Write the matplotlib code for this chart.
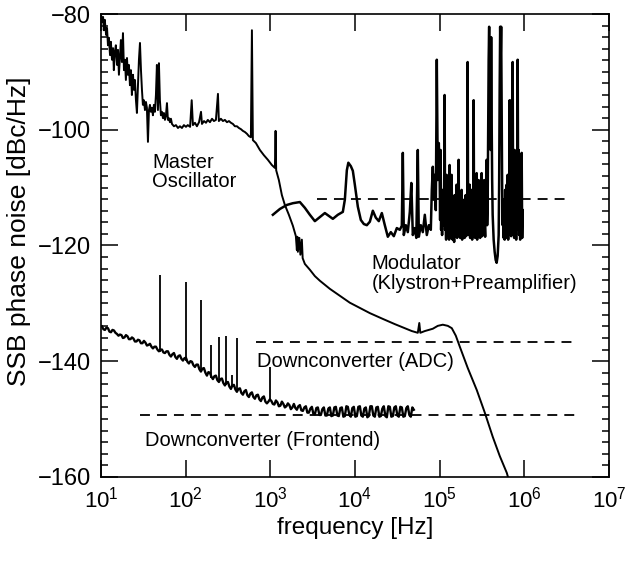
import numpy as np
import matplotlib
matplotlib.use("Agg")
import matplotlib.pyplot as plt
from matplotlib.ticker import FixedLocator, NullLocator, MultipleLocator

# ---------------- data ----------------
xtick_vals = [1e1, 1e2, 1e3, 1e4, 1e5, 1e6, 1e7]
xtick_labels = ["$\\mathregular{10^{%d}}$" % e for e in range(1, 8)]
ytick_vals = [-160, -140, -120, -100, -80]

# Master oscillator
mo_freq = [10.0, 10.3, 10.6, 10.8, 11.1, 11.5, 11.8, 12.1, 12.4, 12.8, 13.1, 13.5, 13.9, 14.2,
           14.6, 15.0, 15.5, 15.9, 16.3, 16.8, 17.2, 17.7, 18.2, 18.7, 19.2, 19.7, 20.3, 20.8,
           21.4, 22.0, 22.6, 23.2, 23.9, 24.5, 25.2, 25.9, 26.6, 27.4, 28.1, 28.9, 29.7, 30.5,
           31.3, 32.2, 33.1, 34.0, 34.9, 35.9, 36.9, 37.9, 38.9, 40.0, 41.1, 42.2, 43.4, 44.6,
           45.8, 47.1, 48.4, 49.7, 51.1, 52.5, 54.0, 55.4, 57.0, 58.5, 60.2, 61.8, 63.5, 65.3,
           67.1, 69.0, 72.8, 76.9, 81.2, 85.7, 90.5, 95.5, 101, 106, 113, 118, 122, 129, 136,
           144, 152, 156, 165, 174, 183, 194, 205, 216, 228, 241, 247, 261, 276, 291, 308, 325,
           343, 362, 382, 404, 426, 450, 475, 502, 530, 559, 590, 607, 623, 676, 754, 840, 937,
           1044, 1134, 1155, 1174, 1263, 1371, 1487, 1658, 1849, 2006, 2061, 2089, 2118, 2206,
           2267, 2361, 2413, 2562, 2935, 3362, 3852, 5054, 6632, 8706, 11430, 15000, 21350,
           29580, 38820, 46970, 55280, 57570, 59170, 66890, 83140, 95220, 109100, 125000,
           139300, 155400, 173200, 215200, 274900, 341800, 424800, 513600, 621500, 656200]
mo_db = [-80.0, -81.4, -80.5, -82.8, -81.0, -83.6, -82.4, -85.4, -84.1, -87.1, -84.8, -87.9, -85.9, -89.7,
         -86.6, -85.4, -88.8, -86.2, -90.5, -87.1, -84.5, -88.3, -83.3, -89.7, -87.9, -91.4, -87.6, -90.5,
         -88.8, -92.3, -89.7, -94.0, -90.5, -93.1, -91.4, -94.9, -97.1, -92.3, -87.9, -85.0, -89.7, -93.1,
         -95.7, -94.9, -96.6, -95.2, -96.2, -102.1, -96.6, -95.7, -96.9, -96.2, -97.5, -95.7, -96.9, -94.0,
         -88.8, -96.6, -88.5, -94.9, -97.5, -96.9, -98.0, -97.1, -98.3, -97.6, -95.4, -98.3, -98.0, -98.7,
         -98.1, -99.0, -99.4, -99.2, -99.7, -99.4, -99.7, -99.2, -99.5, -99.2, -99.5, -94.9, -99.2, -98.8, -99.4,
         -98.7, -96.9, -99.0, -98.5, -98.8, -98.3, -98.7, -98.1, -98.5, -98.3, -93.8, -98.5, -98.1, -98.5, -98.3, -98.7, -98.5,
         -98.8, -99.0, -99.4, -99.4, -99.7, -99.9, -100.2, -100.4, -100.7, -101.1, -101.3, -82.8, -101.8, -102.3, -103.5, -104.4, -105.2,
         -106.1, -106.6, -100.2, -107.0, -108.7, -111.3, -113.0, -114.7, -116.6, -118.4, -120.8, -118.5, -121.1, -118.7,
         -121.6, -119.0, -122.2, -123.2, -124.2, -125.3, -126.1, -127.5, -128.7, -129.9, -130.8, -131.7, -132.7,
         -133.6, -134.3, -134.8, -135.1, -133.4, -135.1, -134.8, -134.4, -133.9, -133.7, -133.9,
         -134.3, -135.6, -137.5, -141.2, -145.0, -148.9, -153.1, -156.4, -159.3, -160.5]

# Modulator (Klystron + Preamplifier)
mod_freq = [1073, 1298, 1570, 1849, 2236, 2562, 2935, 3362, 3852, 4412, 4918, 5484, 6283, 7196,
            7599, 8024, 8358, 8946, 9446, 9973, 10820, 11740, 12740, 13820, 15000, 16270, 17650,
            19150, 20780, 22540, 24460, 26540, 28790, 31240, 33890, 35790, 36780, 37780, 39890,
            42130, 44490, 46350, 48270, 50980, 53090, 55280, 56810, 59980, 63340, 66890, 70630,
            74580, 78760, 80930, 83140, 85420, 87780, 90200, 92680, 95220, 97850,
            100000, 101400, 102800, 104200, 105600, 107000, 108500, 110000, 111500, 113000,
            114600, 116200, 117800, 119400, 121000, 122700, 124400, 126100, 127800, 129600,
            131300, 133100, 135000, 136800, 138700, 140600, 142500, 144500, 146500, 148500,
            150500, 152600, 154700, 156800, 158900, 161100, 163300, 165500, 167800, 170100,
            172500, 174900, 177200, 179600, 182100, 184600, 187100, 189700, 192300, 194900,
            197600, 200300, 203100, 205900, 208700, 211600, 214400, 217300, 220300, 223300,
            226400, 229500, 232700, 235900, 239100, 242400, 245700, 249100, 252400, 255900,
            259400, 263000, 266600, 270300, 273900, 277700, 281500, 285400, 289200, 293200,
            297200, 301300, 305400, 309600, 313800, 318100, 322500, 326900, 331400, 335900,
            340500, 345200, 349900, 354700, 359600, 364500, 369500, 374600, 379700, 384900,
            390200, 395500, 400900, 406400, 412000, 417600, 423400, 435000, 447000, 459400,
            472000, 485100, 498500, 505300, 512200, 519200, 526300, 533500, 540900, 548300,
            555800, 563400, 571100, 578900, 586900, 594900, 603100, 611400, 619700, 628200,
            636800, 645500, 654400, 663400, 672500, 681700, 691000, 700500, 710100, 719800,
            729700, 739700, 749800, 760100, 770500, 781100, 791700, 802500, 813600, 824700,
            836000, 847500, 859100, 870900, 882800, 894900, 907100, 919500, 932200, 945000, 957900]
mod_db = [-114.7, -113.7, -113.0, -112.7, -112.5, -113.5, -114.7, -115.8, -115.1, -114.4, -114.9, -115.4, -114.7, -114.2,
          -112.1, -107.0, -105.7, -106.3, -107.1, -109.5, -113.3, -115.6, -116.3, -116.5, -115.9, -114.0, -115.2,
          -115.8, -114.4, -116.5, -118.5, -117.7, -118.4, -117.0, -117.3, -116.6, -104.0, -118.2, -116.5,
          -117.7, -114.2, -109.2, -118.2, -117.0, -118.7, -103.5, -118.5, -116.5, -117.7, -114.7, -118.2,
          -116.5, -117.3, -110.4, -106.4, -112.1, -107.8, -113.9, -87.9, -108.7, -102.3,
          -107.0, -115.6, -103.5, -117.3, -112.1, -118.2, -110.4, -116.5, -114.7, -113.0,
          -94.0, -117.3, -113.9, -119.0, -107.8, -116.5, -118.2, -112.1, -113.9, -119.0,
          -106.1, -117.3, -114.7, -118.7, -107.8, -116.5, -119.0, -113.0, -117.0, -119.4,
          -111.3, -117.3, -118.4, -113.9, -109.5, -118.7, -115.6, -117.7, -105.2, -118.2,
          -113.0, -118.7, -114.7, -117.0, -110.4, -119.0, -113.9, -118.2, -116.5, -112.1,
          -118.7, -114.7, -111.3, -118.4, -113.9, -117.3, -88.3, -116.5, -118.2, -113.0,
          -109.5, -118.7, -115.6, -117.7, -110.4, -119.0, -116.5, -113.5, -94.9, -118.2,
          -112.1, -118.7, -114.7, -117.0, -107.5, -119.0, -116.5, -113.9, -108.7, -118.2,
          -115.9, -118.7, -111.3, -117.3, -107.5, -118.4, -115.6, -113.9, -117.7, -108.7,
          -116.5, -118.5, -112.1, -114.7, -105.2, -116.5, -113.0, -100.0, -87.9, -82.2,
          -98.3, -85.4, -103.5, -84.0, -98.3, -108.7, -114.7, -119.0, -121.1, -122.5,
          -123.0, -121.8, -118.2, -108.7, -93.1, -82.2, -87.9, -82.2, -96.6, -110.4,
          -116.5, -112.1, -118.7, -113.9, -119.0, -110.4, -117.3, -114.7, -109.5, -118.7,
          -107.8, -119.0, -112.1, -117.3, -94.9, -116.5, -105.2, -118.4, -94.9, -114.7,
          -88.3, -117.3, -108.7, -118.7, -103.5, -117.7, -112.1, -119.0, -107.0, -117.3,
          -87.9, -112.1, -103.5, -118.2, -107.8, -119.0, -105.2, -116.5, -104.0, -118.7, -113.9]

# Downconverter (Frontend) measured trace: two interleaved sets of samples
fe_freq_a = [10.28, 11.15, 12.10, 13.13, 14.24, 15.45, 16.77, 18.19, 19.74, 21.41, 23.23, 25.21,
             27.35, 29.68, 32.20, 34.93, 37.90, 41.12, 44.62, 48.41, 52.52, 56.98, 61.82, 67.07,
             72.77, 78.96, 85.67, 92.95, 100.8, 109.4, 118.7, 128.8, 139.7, 151.6, 164.4, 178.5,
             193.6, 210.1, 227.9, 247.3, 268.3, 291.1, 315.8, 342.7, 371.8, 403.4, 437.7, 474.9,
             515.2, 559.0, 606.6, 658.1, 714.0, 774.6, 840.5, 912.0, 989.2, 1073, 1165, 1263,
             1371, 1487, 1614, 1751, 1900, 2061, 2236, 2426, 2633, 2856, 3099, 3362, 3648, 3958,
             4294, 4659, 5054, 5484, 5950, 6455, 7004, 7599, 8245, 8946, 9705, 10530, 11430,
             12400, 13450, 14590, 15830, 17180, 18640, 20220, 21940, 23810, 25830, 28030, 30410,
             32990, 35790, 38830, 42130, 45710, 49600]
fe_db_a = [-134.0, -134.6, -134.3, -135.0, -134.7, -135.3, -135.4, -136.0, -135.5, -136.2, -135.9, -136.6,
           -136.3, -136.9, -136.5, -137.3, -137.0, -137.8, -137.5, -138.3, -138.0, -138.6, -138.3, -139.2,
           -138.6, -139.6, -139.0, -139.9, -139.4, -140.4, -140.1, -141.0, -140.6, -141.8, -141.2, -142.5,
           -142.0, -143.1, -142.5, -143.6, -143.0, -144.2, -143.6, -144.8, -144.1, -145.3, -144.7, -145.8,
           -145.0, -146.2, -145.4, -146.5, -145.8, -146.9, -146.1, -147.3, -146.6, -147.4, -146.8, -147.8,
           -147.0, -148.0, -147.3, -148.3, -147.4, -148.4, -147.6, -148.6, -147.8, -148.9, -147.9, -149.2,
           -148.0, -149.3, -148.0, -149.4, -148.0, -149.4, -147.9, -149.5, -148.0, -149.5, -147.9, -149.6,
           -147.9, -149.5, -147.8, -149.6, -148.0, -149.5, -147.8, -149.6, -147.9, -149.5, -147.8, -149.7,
           -147.9, -149.5, -147.8, -149.6, -148.0, -149.5, -147.8, -149.6, -148.4]
fe_freq_b = [10.71, 11.62, 12.61, 13.68, 14.84, 16.10, 17.47, 18.95, 20.56, 22.31, 24.20, 26.26,
             28.49, 30.91, 33.54, 36.39, 39.48, 42.83, 46.47, 50.42, 54.71, 59.36, 64.40, 69.87,
             75.80, 82.25, 89.24, 96.82, 105.0, 114.0, 123.6, 134.2, 145.5, 157.9, 171.3, 185.9,
             201.7, 218.8, 237.4, 257.6, 279.5, 303.2, 329.0, 357.0, 387.3, 420.2, 455.9, 494.7,
             536.7, 582.3, 631.8, 685.5, 743.7, 806.9, 875.5, 950.0, 1031, 1118, 1213, 1316,
             1428, 1549, 1681, 1824, 1979, 2147, 2330, 2528, 2742, 2975, 3228, 3503, 3800, 4123,
             4474, 4854, 5266, 5714, 6199, 6726, 7297, 7918, 8590, 9320, 10110, 10970, 11900,
             12920, 14010, 15200, 16490, 17900, 19420, 21070, 22860, 24800, 26910, 29190, 31670,
             34360, 37280, 40450, 43890, 47620]
fe_db_b = [-134.5, -134.2, -134.9, -134.6, -135.1, -135.6, -135.5, -135.9, -135.7, -136.2, -136.1, -136.6,
           -136.4, -136.9, -136.8, -137.2, -137.5, -137.5, -138.0, -138.0, -138.5, -138.3, -138.9, -138.8,
           -139.3, -139.1, -139.6, -139.5, -140.1, -140.0, -140.7, -140.6, -141.4, -141.3, -142.0, -141.9,
           -142.7, -142.6, -143.3, -143.1, -143.8, -143.7, -144.4, -144.2, -144.9, -144.8, -145.5, -145.2,
           -145.9, -145.6, -146.2, -145.9, -146.6, -146.3, -147.0, -147.0, -146.9, -147.5, -147.1, -147.7,
           -147.4, -147.8, -147.6, -148.0, -148.1, -147.8, -148.5, -148.0, -148.9, -148.2, -149.1, -148.1,
           -149.3, -148.3, -149.4, -148.2, -149.5, -148.0, -149.4, -148.1, -149.6, -147.8, -149.3, -148.1,
           -149.6, -147.9, -149.4, -148.2, -149.7, -147.8, -149.4, -148.0, -149.6, -148.2, -149.5, -147.8,
           -149.6, -148.0, -149.4, -147.9, -149.6, -148.1, -149.3, -148.0]
# mains-harmonic spurs on the frontend trace
fe_spur_freq = [50, 100, 150, 200, 250, 300, 350, 400, 1000]
fe_spur_base = [-138.4, -140.0, -141.6, -142.9, -143.6, -144.2, -144.5, -145.0, -146.8]
fe_spur_top = [-125.1, -126.3, -129.4, -137.2, -135.8, -135.6, -142.4, -136.0, -141.0]

# Dashed noise floors: (start freq, end freq, level)
mod_floor = [3600, 3.2e6, -112.0]
adc_floor = [680, 3.7e6, -136.7]
fe_floor = [29, 4.2e6, -149.3]

labels = {
    "Master\nOscillator": (40, -107.3),
    "Modulator\n(Klystron+Preamplifier)": (15800, -124.8),
    "Downconverter (ADC)": (700, -140.0),
    "Downconverter (Frontend)": (33, -153.8),
}

# ---------------- figure ----------------
plt.rcParams['font.family'] = ['Liberation Sans', 'DejaVu Sans']
plt.rcParams['mathtext.fontset'] = 'custom'
plt.rcParams['mathtext.rm'] = 'Liberation Sans'
plt.rcParams['axes.unicode_minus'] = True

fig = plt.figure(figsize=(6.43, 5.61), dpi=100)
ax = fig.add_axes([0.157, 0.150, 0.790, 0.825])

ax.plot(mo_freq, mo_db, color='black', lw=1.4)
ax.plot(mod_freq, mod_db, color='black', lw=1.8)

fe_f = np.array(fe_freq_a + fe_freq_b)
fe_d = np.array(fe_db_a + fe_db_b)
order = np.argsort(fe_f)
ax.plot(fe_f[order], fe_d[order], color='black', lw=1.7)
ax.vlines(fe_spur_freq, fe_spur_base, fe_spur_top, color='black', lw=1.3)

for f0, f1, lev in (mod_floor, adc_floor, fe_floor):
    ax.plot([f0, f1], [lev, lev], color='black', lw=1.3, dashes=(5.5, 3.9))

for txt, (fx, fy) in labels.items():
    ax.text(fx, fy, txt, fontsize=14.5, ha='left', va='center', linespacing=1.05)

ax.set_xscale('log')
ax.set_xlim(1e1, 1e7)
ax.set_ylim(-160, -80)
ax.xaxis.set_major_locator(FixedLocator(xtick_vals))
ax.xaxis.set_minor_locator(NullLocator())
ax.set_xticklabels(xtick_labels)
ax.yaxis.set_major_locator(FixedLocator(ytick_vals))
ax.yaxis.set_minor_locator(MultipleLocator(2))

ax.tick_params(which='both', direction='in', top=True, right=True, width=1.1)
ax.tick_params(axis='x', labelsize=16)
ax.tick_params(axis='y', labelsize=17)
ax.tick_params(which='major', length=12, pad=7)
ax.tick_params(which='minor', length=5)
for s in ax.spines.values():
    s.set_linewidth(1.2)

ax.set_xlabel('frequency [Hz]', fontsize=17.5, labelpad=3)
ax.set_ylabel('SSB phase noise [dBc/Hz]', fontsize=19)
ax.yaxis.set_label_coords(-0.137, 0.53)

fig.savefig('out.png', dpi=100)
